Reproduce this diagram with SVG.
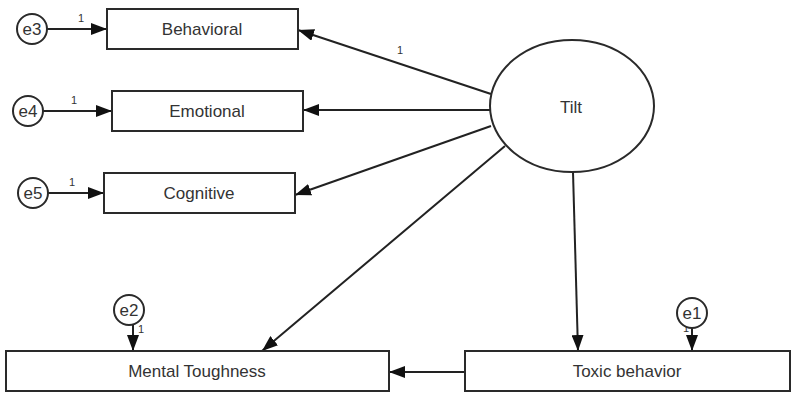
<svg xmlns="http://www.w3.org/2000/svg" width="794" height="394" viewBox="0 0 794 394">
<style>
.box{fill:#fff;stroke:#2a2a2a;stroke-width:2}
.ell{fill:#fff;stroke:#2a2a2a;stroke-width:2}
.lbl{font-family:"Liberation Sans",Arial,sans-serif;font-size:17px;fill:#333;text-anchor:middle;dominant-baseline:central}
.err{font-family:"Liberation Sans",Arial,sans-serif;font-size:17px;fill:#333;text-anchor:middle;dominant-baseline:central}
.one{font-family:"Liberation Sans",Arial,sans-serif;font-size:11px;fill:#333;text-anchor:middle}
.edge{stroke:#222;stroke-width:2;fill:none;marker-end:url(#arr)}
</style>
<defs>
<marker id="arr" markerUnits="userSpaceOnUse" markerWidth="16" markerHeight="12" refX="16" refY="6" orient="auto">
<path d="M0,0 L16,6 L0,12 z" fill="#111"/>
</marker>
</defs>
<rect width="794" height="394" fill="#fff"/>
<g id="connectors">
<line class="edge" x1="47" y1="29" x2="107" y2="29"/>
<line class="edge" x1="43" y1="111" x2="112" y2="111"/>
<line class="edge" x1="48" y1="193" x2="104" y2="193"/>
<line class="edge" x1="491" y1="94" x2="298" y2="30"/>
<line class="edge" x1="490" y1="110" x2="303" y2="110"/>
<line class="edge" x1="491" y1="126" x2="295" y2="195"/>
<line class="edge" x1="505" y1="146" x2="262" y2="351"/>
<line class="edge" x1="573" y1="172" x2="578" y2="351"/>
<line class="edge" x1="465" y1="372" x2="389" y2="372"/>
<line class="edge" x1="133" y1="325" x2="133" y2="351"/>
<line class="edge" x1="692" y1="328" x2="692" y2="351"/>
<text class="one" x="81" y="22">1</text>
<text class="one" x="74" y="104">1</text>
<text class="one" x="72" y="186">1</text>
<text class="one" x="400" y="54">1</text>
<text class="one" x="141" y="333">1</text>
<text class="one" x="686" y="332" fill="#888">1</text>
</g>
<g id="e3"><circle class="ell" cx="32" cy="29" r="15"/><text class="err" x="32" y="29">e3</text></g>
<g id="e4"><circle class="ell" cx="28" cy="111" r="15"/><text class="err" x="28" y="111">e4</text></g>
<g id="e5"><circle class="ell" cx="33" cy="193" r="15"/><text class="err" x="33" y="193">e5</text></g>
<g id="e2"><circle class="ell" cx="129" cy="310" r="15"/><text class="err" x="129" y="310">e2</text></g>
<g id="e1"><circle class="ell" cx="692" cy="313" r="15"/><text class="err" x="692" y="313">e1</text></g>
<g id="behavioral"><rect class="box" x="107" y="9" width="191" height="40"/><text class="lbl" x="202" y="29">Behavioral</text></g>
<g id="emotional"><rect class="box" x="112" y="91" width="191" height="40"/><text class="lbl" x="207" y="111">Emotional</text></g>
<g id="cognitive"><rect class="box" x="104" y="173" width="191" height="40"/><text class="lbl" x="199" y="193">Cognitive</text></g>
<g id="tilt"><ellipse class="ell" cx="572" cy="106" rx="82" ry="66"/><text class="lbl" x="571" y="107">Tilt</text></g>
<g id="mental-toughness"><rect class="box" x="6" y="351" width="383" height="40"/><text class="lbl" x="197" y="371">Mental Toughness</text></g>
<g id="toxic-behavior"><rect class="box" x="465" y="351" width="325" height="40"/><text class="lbl" x="627" y="371">Toxic behavior</text></g>
</svg>
